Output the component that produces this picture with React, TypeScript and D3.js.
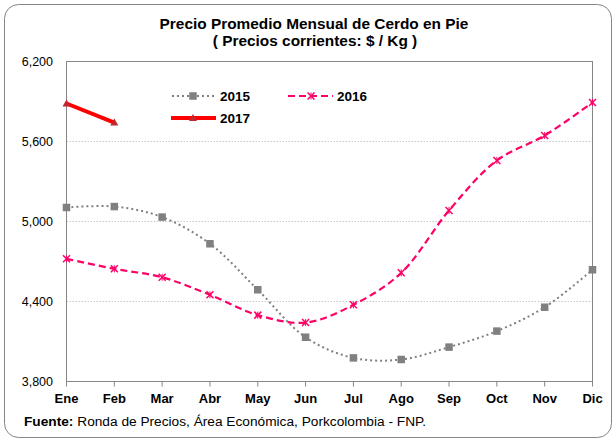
import React from 'react';
import * as d3 from 'd3';

const months = ['Ene', 'Feb', 'Mar', 'Abr', 'May', 'Jun', 'Jul', 'Ago', 'Sep', 'Oct', 'Nov', 'Dic'];
const precios2015 = [5105, 5112, 5033, 4833, 4488, 4132, 3977, 3965, 4058, 4178, 4357, 4638];
const precios2016 = [4720, 4645, 4582, 4450, 4298, 4242, 4375, 4615, 5083, 5458, 5645, 5893];
const precios2017 = [5885, 5742];
const yTicks = [3800, 4400, 5000, 5600, 6200];

const W = 616, H = 443;
const left = 66.5, right = 592.5, top = 61.5, bottom = 381.5;

const App = (): JSX.Element => {
  const x = d3.scalePoint<string>().domain(months).range([left, right]);
  const y = d3.scaleLinear().domain([3800, 6200]).range([bottom, top]);
  const fmt = d3.format(',');

  const line = d3.line<number>()
    .x((_, i) => x(months[i]) as number)
    .y(d => y(d))
    .curve(d3.curveCatmullRom.alpha(0.5));

  const font = '"Liberation Sans", Arial, sans-serif';

  const square = (cx: number, cy: number, k: string) => (
    <rect key={k} x={cx - 3.75} y={cy - 3.75} width={7.5} height={7.5} fill="#808080" />
  );
  const cross = (cx: number, cy: number, k: string) => (
    <g key={k} stroke="#FF0066" strokeWidth={1.5}>
      <line x1={cx - 3.5} y1={cy - 3.5} x2={cx + 3.5} y2={cy + 3.5} />
      <line x1={cx - 3.5} y1={cy + 3.5} x2={cx + 3.5} y2={cy - 3.5} />
      <line x1={cx} y1={cy - 3.5} x2={cx} y2={cy + 3.5} strokeWidth={1} />
    </g>
  );
  const tri = (cx: number, cy: number, k: string) => (
    <path key={k} d={`M${cx},${cy - 4}L${cx + 4},${cy + 3}L${cx - 4},${cy + 3}Z`} fill="#C0282D" />
  );

  return (
    <div style={{ position: 'fixed', left: 0, top: 0 }}>
      <svg width={W} height={H} style={{ display: 'block', fontFamily: font }}>
        <rect x={0} y={0} width={W} height={H} fill="#fff" />
        <rect x={4.5} y={4.5} width={607} height={433} rx={14} fill="#fff" stroke="#868686" strokeWidth={1} />

        <text x={314} y={29} textAnchor="middle" fontSize={15.4} fontWeight="bold">Precio Promedio Mensual de Cerdo en Pie</text>
        <text x={315} y={46} textAnchor="middle" fontSize={15.4} fontWeight="bold">( Precios corrientes: $ / Kg )</text>

        {yTicks.slice(1, -1).map(t => (
          <line key={t} x1={left} x2={right} y1={y(t)} y2={y(t)} stroke="#c8c8c8" strokeDasharray="1.5,1.5" />
        ))}
        <rect x={left} y={top} width={right - left} height={bottom - top} fill="none" stroke="#868686" />

        {yTicks.map(t => (
          <text key={t} x={53} y={y(t) + 4.5} textAnchor="end" fontSize={12.5} fill="#000">{fmt(t)}</text>
        ))}
        {months.map(m => (
          <g key={m}>
            <line x1={x(m)} x2={x(m)} y1={bottom} y2={bottom + 5} stroke="#868686" />
            <text x={x(m)} y={bottom + 21} textAnchor="middle" fontSize={13} fontWeight="bold">{m}</text>
          </g>
        ))}

        <path d={line(precios2015) || ''} fill="none" stroke="#808080" strokeWidth={2} strokeDasharray="2,3" />
        <path d={line(precios2016) || ''} fill="none" stroke="#FF0066" strokeWidth={2.2} strokeDasharray="7,4" />
        <path d={line(precios2017) || ''} fill="none" stroke="#FF0000" strokeWidth={4} />
        {precios2015.map((v, i) => square(x(months[i]) as number, y(v), 's' + i))}
        {precios2016.map((v, i) => cross(x(months[i]) as number, y(v), 'c' + i))}
        {precios2017.map((v, i) => tri(x(months[i]) as number, y(v), 't' + i))}

        {/* leyenda */}
        <line x1={172} x2={214} y1={96} y2={96} stroke="#808080" strokeWidth={2} strokeDasharray="2,3" />
        {square(193, 96, 'l1')}
        <text x={220} y={101} fontSize={13.5} fontWeight="bold">2015</text>
        <line x1={288} x2={333} y1={96} y2={96} stroke="#FF0066" strokeWidth={2.2} strokeDasharray="7,4" />
        {cross(311, 96, 'l2')}
        <text x={337} y={101} fontSize={13.5} fontWeight="bold">2016</text>
        <line x1={171} x2={216} y1={118} y2={118} stroke="#FF0000" strokeWidth={4} />
        {tri(193, 118, 'l3')}
        <text x={220} y={123} fontSize={13.5} fontWeight="bold">2017</text>

        <text x={24} y={426} fontSize={13.7}>
          <tspan fontWeight="bold">Fuente:</tspan> Ronda de Precios, Área Económica, Porkcolombia - FNP.
        </text>
      </svg>
    </div>
  );
};

export default App;
